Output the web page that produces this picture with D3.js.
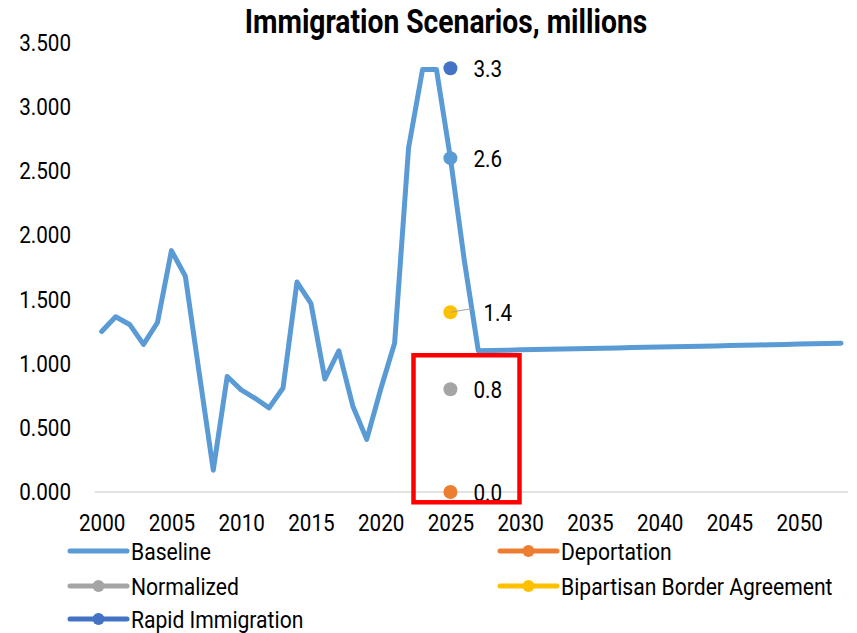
<!DOCTYPE html>
<html>
<head>
<meta charset="utf-8">
<script src="https://cdn.jsdelivr.net/npm/d3@7/dist/d3.min.js"></script>
<style>
  html, body { margin: 0; padding: 0; background: #ffffff; }
  svg { display: block; font-family: Roboto, "Liberation Sans", sans-serif; }
</style>
</head>
<body>
<svg id="chart" width="857" height="633"></svg>
<script>
// Annual immigration, millions
const years = [
  2000, 2001, 2002, 2003, 2004, 2005, 2006, 2007, 2008, 2009,
  2010, 2011, 2012, 2013, 2014, 2015, 2016, 2017, 2018, 2019,
  2020, 2021, 2022, 2023, 2024, 2025, 2026, 2027, 2028, 2029,
  2030, 2031, 2032, 2033, 2034, 2035, 2036, 2037, 2038, 2039,
  2040, 2041, 2042, 2043, 2044, 2045, 2046, 2047, 2048, 2049,
  2050, 2051, 2052, 2053
];
const baseline = [
  1.250, 1.365, 1.305, 1.150, 1.320, 1.880, 1.680, 0.920, 0.170, 0.900,
  0.795, 0.730, 0.655, 0.810, 1.635, 1.470, 0.880, 1.100, 0.670, 0.410,
  0.800, 1.160, 2.680, 3.290, 3.290, 2.600, 1.800, 1.100, 1.102, 1.104,
  1.107, 1.109, 1.111, 1.113, 1.116, 1.118, 1.120, 1.122, 1.125, 1.127,
  1.129, 1.131, 1.134, 1.136, 1.138, 1.140, 1.143, 1.145, 1.147, 1.149,
  1.152, 1.154, 1.156, 1.158
];

// 2025 scenario points
const scenarioNames  = ["Baseline", "Deportation", "Normalized", "Bipartisan Border Agreement", "Rapid Immigration"];
const scenarioYear   = 2025;
const scenarioValues = [2.6, 0.0, 0.8, 1.4, 3.3];
const scenarioColors = ["#5B9BD5", "#ED7D31", "#A5A5A5", "#FFC000", "#4472C4"];

const yTicks = [0, 0.5, 1, 1.5, 2, 2.5, 3, 3.5];
const xTickYears = [2000, 2005, 2010, 2015, 2020, 2025, 2030, 2035, 2040, 2045, 2050];

const svg = d3.select("#chart");
const FONT = 24;
const SQUEEZE = 0.86;

// narrow the glyphs to a condensed look
function condense(sel, k) {
  sel.each(function () {
    const w = this.getComputedTextLength();
    d3.select(this).attr("textLength", w * (k || SQUEEZE)).attr("lengthAdjust", "spacingAndGlyphs");
  });
  return sel;
}

const x = d3.scalePoint().domain(years).range([94.7, 848]).padding(0.5);
const y = d3.scaleLinear().domain([0, 3.5]).range([492, 42.6]);

// title
condense(svg.append("text")
  .attr("x", 446).attr("y", 33)
  .attr("text-anchor", "middle")
  .attr("font-size", 34).attr("font-weight", 700).attr("fill", "#000")
  .text("Immigration Scenarios, millions"), 0.83);

// zero line
svg.append("line")
  .attr("x1", 94.7).attr("x2", 848)
  .attr("y1", y(0)).attr("y2", y(0))
  .attr("stroke", "#D9D9D9").attr("stroke-width", 1.5);

// y axis
const yAxis = svg.append("g")
  .attr("transform", "translate(71,0)")
  .call(d3.axisLeft(y).tickValues(yTicks).tickSize(0).tickPadding(0).tickFormat(d3.format(".3f")));
yAxis.select(".domain").remove();
yAxis.selectAll("text")
  .attr("font-size", FONT).attr("font-family", "Roboto").attr("fill", "#000");
condense(yAxis.selectAll("text"));

// x axis
const xAxis = svg.append("g")
  .attr("transform", "translate(0,505)")
  .call(d3.axisBottom(x).tickValues(xTickYears).tickSize(0).tickPadding(0).tickFormat(d3.format("d")));
xAxis.select(".domain").remove();
xAxis.selectAll("text")
  .attr("font-size", FONT).attr("font-family", "Roboto").attr("fill", "#000").attr("dy", "1.1em");
condense(xAxis.selectAll("text"));

// baseline history and projection
const line = d3.line().x((d, i) => x(years[i])).y(d => y(d));
svg.append("path")
  .datum(baseline)
  .attr("d", line)
  .attr("fill", "none")
  .attr("stroke", "#5B9BD5")
  .attr("stroke-width", 5)
  .attr("stroke-linejoin", "round")
  .attr("stroke-linecap", "round");

// scenario markers and labels
const sx = x(scenarioYear);
scenarioValues.forEach((v, i) => {
  svg.append("circle")
    .attr("cx", sx).attr("cy", y(v)).attr("r", 7)
    .attr("fill", scenarioColors[i]);
  const offset = scenarioNames[i] === "Bipartisan Border Agreement" ? 33 : 23;
  if (offset > 23) {
    svg.append("line")
      .attr("x1", sx).attr("y1", y(v))
      .attr("x2", sx + 21).attr("y2", y(v) - 3.5)
      .attr("stroke", "#A5A5A5").attr("stroke-width", 1.2);
  }
  condense(svg.append("text")
    .attr("x", sx + offset).attr("y", y(v))
    .attr("dy", "0.355em")
    .attr("font-size", FONT).attr("fill", "#000")
    .text(d3.format(".1f")(v)));
});

// highlight box around the low scenarios
svg.append("rect")
  .attr("x", 413.5).attr("y", y(1.065))
  .attr("width", 106).attr("height", y(-0.08) - y(1.065))
  .attr("fill", "none").attr("stroke", "#FF0000").attr("stroke-width", 4.5);

// legend
const legendOrder = [0, 1, 2, 3, 4];
const legendPos = [[70, 551], [500, 551], [70, 586], [500, 586], [70, 619]];
legendOrder.forEach((k, j) => {
  const [lx, ly] = legendPos[j];
  const g = svg.append("g");
  g.append("line")
    .attr("x1", lx).attr("x2", lx + 57).attr("y1", ly).attr("y2", ly)
    .attr("stroke", scenarioColors[k]).attr("stroke-width", 5).attr("stroke-linecap", "round");
  if (k !== 0) {
    g.append("circle").attr("cx", lx + 28.5).attr("cy", ly).attr("r", 6).attr("fill", scenarioColors[k]);
  }
  g.append("g")
    .attr("transform", `translate(${lx + 61},${ly}) scale(0.88,1)`)
    .append("text")
    .attr("x", 0).attr("y", 0).attr("dy", "0.355em")
    .attr("font-size", FONT).attr("fill", "#000")
    .text(scenarioNames[k]);
});
</script>
</body>
</html>
